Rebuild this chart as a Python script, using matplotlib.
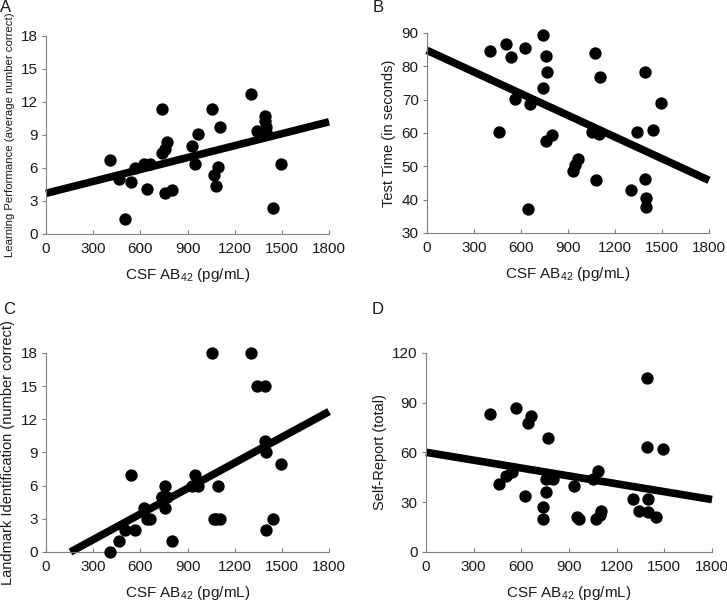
import matplotlib
matplotlib.use('Agg')
import matplotlib.pyplot as plt
import numpy as np

plt.rcParams['font.family'] = ['Liberation Sans', 'DejaVu Sans']
plt.rcParams['mathtext.fontset'] = 'custom'
plt.rcParams['mathtext.rm'] = 'Liberation Sans'
plt.rcParams['mathtext.it'] = 'Liberation Sans'

# CSF AB42 values shared by all four panels (pg/mL)
csf_ab42 = [405, 462, 505, 538, 565, 625, 643, 660, 738, 738,
            758, 767, 758, 800, 931, 948, 964, 1053, 1070, 1080,
            1096, 1104, 1305, 1343, 1390, 1390, 1398, 1398, 1445, 1493]

learning = [6.7, 5.0, 1.4, 4.7, 6.0, 6.4, 4.1, 6.4, 11.4, 7.4,
            3.7, 8.4, 7.7, 4.0, 8.0, 6.4, 9.1, 11.4, 5.4, 4.4,
            6.1, 9.7, 12.7, 9.4, 10.7, 10.3, 9.7, 9.3, 2.4, 6.4]

test_time = [84.7, 60.3, 86.7, 82.9, 70.2, 85.4, 37.3, 68.7, 89.4, 73.6,
             83.2, 78.4, 57.6, 59.4, 48.7, 50.5, 52.2, 60.3, 84.1, 46.0,
             59.8, 76.9, 42.9, 60.2, 78.3, 46.3, 40.4, 37.7, 60.9, 69.0]

landmark = [0, 1, 2, 7, 2, 4, 3, 3, 5, 5,
            6, 5, 4, 1, 6, 7, 6, 18, 3, 3,
            6, 3, 18, 15, 15, 10, 9, 2, 3, 8]

self_report = [83, 41, 46, 48, 87, 34, 78, 82, 27, 20,
               44, 69, 36, 44, 40, 21, 20, 44, 20, 49,
               22.5, 25, 32, 25, 63, 105, 32, 24, 21, 62]

# fitted lines: (value at 0, value at 1800)
fit_learning = (3.7, 10.2)
fit_test_time = (84.8, 45.8)
fit_landmark = (-1.2, 12.7)
fit_self_report = (60.1, 31.6)

panels = [
    ('A', learning, fit_learning, 'Learning Performance (average number correct)',
     (0, 18), np.arange(0, 19, 3), 8.2, [0.0633, 0.6113, 0.3893, 0.3289],
     (6, 8)),
    ('B', test_time, fit_test_time, 'Test Time (in seconds)',
     (30, 90), np.arange(30, 91, 10), 10.5, [0.5873, 0.6130, 0.3879, 0.3322],
     (378, 8)),
    ('C', landmark, fit_landmark, 'Landmark Identification (number correct)',
     (0, 18), np.arange(0, 19, 3), 10.5, [0.0633, 0.0831, 0.3893, 0.3306],
     (9, 309)),
    ('D', self_report, fit_self_report, 'Self-Report (total)',
     (0, 120), np.arange(0, 121, 30), 10.5, [0.5860, 0.0831, 0.3934, 0.3306],
     (378, 309)),
]

W, H = 727, 602
fig = plt.figure(figsize=(W / 100, H / 100), dpi=100)
text_col = '#1a1a1a'
spine_col = '#7f7f7f'

for letter, yvals, fit, ylabel, ylim, yticks, ylab_size, rect, lpos in panels:
    ax = fig.add_axes(rect)
    ax.scatter(csf_ab42, yvals, s=62, color='black', zorder=3, clip_on=False)
    y0, y1 = fit
    xs = np.array([0.0, 1800.0])
    if y0 < ylim[0]:
        # start the line where it meets the bottom of the axis
        xs[0] = (ylim[0] - y0) / (y1 - y0) * 1800
    ys = y0 + (y1 - y0) * xs / 1800
    ax.plot(xs, ys, color='black', lw=5.5, solid_capstyle='butt',
            zorder=2, clip_on=False)
    ax.set_xlim(0, 1800)
    ax.set_ylim(*ylim)
    ax.set_xticks(np.arange(0, 1801, 300))
    ax.set_yticks(yticks)
    for s in ['top', 'right']:
        ax.spines[s].set_visible(False)
    for s in ['left', 'bottom']:
        ax.spines[s].set_color(spine_col)
        ax.spines[s].set_linewidth(0.8)
    ax.tick_params(axis='y', direction='out', length=3, color=spine_col,
                   labelsize=11, labelcolor=text_col, pad=3)
    ax.tick_params(axis='x', direction='in', length=3, color=spine_col,
                   labelsize=11, labelcolor=text_col, pad=6)
    ax.set_xlabel('CSF AB$_{42}$ (pg/mL)', fontsize=11, color=text_col,
                  labelpad=7)
    ax.set_ylabel(ylabel, fontsize=ylab_size, color=text_col, labelpad=4)
    fig.text(lpos[0] / W, 1 - lpos[1] / H, letter, fontsize=12,
             color=text_col, ha='center', va='center')

fig.savefig('out.png', dpi=100)
